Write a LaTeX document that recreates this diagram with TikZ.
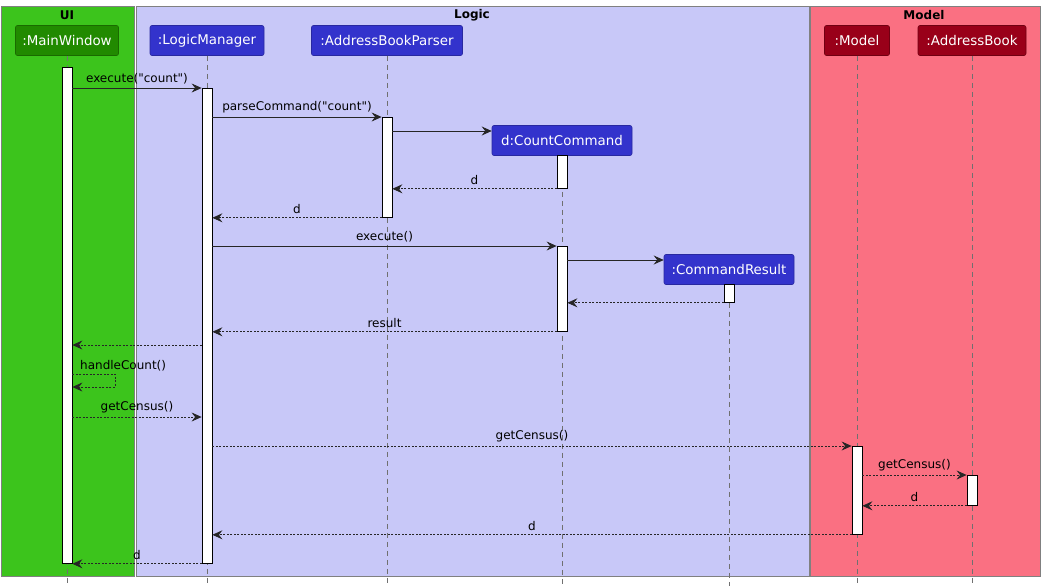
\documentclass[tikz,border=0pt]{standalone}
\usepackage{fontspec}
\setmainfont{DejaVu Sans}[Ligatures=TeXOff]
\usetikzlibrary{arrows.meta}
\definecolor{uifill}{HTML}{3CC41C}
\definecolor{logicfill}{HTML}{C8C8F8}
\definecolor{modelfill}{HTML}{FA7082}
\definecolor{uihead}{HTML}{218A00}
\definecolor{uiheadb}{HTML}{1A6A00}
\definecolor{logichead}{HTML}{3333CC}
\definecolor{logicheadb}{HTML}{2828A0}
\definecolor{modelhead}{HTML}{990019}
\definecolor{modelheadb}{HTML}{700012}
\definecolor{boxline}{HTML}{808080}
\definecolor{lifeline}{HTML}{707070}
\tikzset{
  grp/.style={draw=boxline, line width=0.8pt},
  grptitle/.style={font=\bfseries\fontsize{12}{14}\selectfont, inner sep=0pt},
  head/.style={rounded corners=2pt, text=white, minimum height=30pt, inner sep=0pt,
    font=\fontsize{13.4}{16}\selectfont, line width=0.6pt},
  uih/.style={head, fill=uihead, draw=uiheadb},
  lgh/.style={head, fill=logichead, draw=logicheadb},
  mdh/.style={head, fill=modelhead, draw=modelheadb},
  life/.style={draw=lifeline, line width=0.6pt, dash pattern=on 5pt off 4pt},
  act/.style={draw=black, fill=white, line width=0.8pt, minimum width=10pt, inner sep=0pt},
  msg/.style={draw=black!85, line width=0.8pt, -{Stealth[length=10pt,width=9pt,inset=3.5pt]}},
  rmsg/.style={msg, dash pattern=on 2pt off 1.5pt},
  lbl/.style={font=\fontsize{12}{14}\selectfont, inner sep=0pt, text=black},
}
\begin{document}
\begin{tikzpicture}[x=1pt,y=-1pt]
\useasboundingbox (0,0) rectangle (1045,587);
% groups
\node[grp, fill=uifill, minimum width=133pt, minimum height=570pt, anchor=north west, inner sep=0pt] (gUI) at (1,6) {};
\node[grp, fill=logicfill, minimum width=673pt, minimum height=570pt, anchor=north west, inner sep=0pt] (gLogic) at (136,6) {};
\node[grp, fill=modelfill, minimum width=230pt, minimum height=570pt, anchor=north west, inner sep=0pt] (gModel) at (810,6) {};
\node[grptitle] (tUI) at (67,15) {UI};
\node[grptitle] (tLogic) at (472,15) {Logic};
\node[grptitle] (tModel) at (924,15) {Model};
% heads
\node[uih, minimum width=103pt] (pMW) at (67,40.5) {:MainWindow};
\node[lgh, minimum width=114pt] (pLM) at (207,40.5) {:LogicManager};
\node[lgh, minimum width=151pt] (pABP) at (387,40.5) {:AddressBookParser};
\node[lgh, minimum width=140pt] (pCC) at (562,140.5) {d:CountCommand};
\node[lgh, minimum width=130pt] (pCR) at (729,269.5) {:CommandResult};
\node[mdh, minimum width=65pt] (pM) at (857,40.5) {:Model};
\node[mdh, minimum width=108pt] (pAB) at (972,40.5) {:AddressBook};
% lifelines
\coordinate (eMW) at (67,586);
\coordinate (eLM) at (207,586);
\coordinate (eABP) at (387,586);
\coordinate (eCC) at (562,586);
\coordinate (eCR) at (729,586);
\coordinate (eM) at (857,586);
\coordinate (eAB) at (972,586);
\draw[life] (pMW.south) -- (eMW);
\draw[life] (pLM.south) -- (eLM);
\draw[life] (pABP.south) -- (eABP);
\draw[life] (pCC.south) -- (eCC);
\draw[life] (pCR.south) -- (eCR);
\draw[life] (pM.south) -- (eM);
\draw[life] (pAB.south) -- (eAB);
% activations
\node[act, minimum height=496pt, anchor=north] (aMW) at (67,67) {};
\node[act, minimum height=475pt, anchor=north] (aLM) at (207,88) {};
\node[act, minimum height=100pt, anchor=north] (aABP) at (387,117) {};
\node[act, minimum height=33pt, anchor=north] (aCC1) at (562,155) {};
\node[act, minimum height=85pt, anchor=north] (aCC2) at (562,246) {};
\node[act, minimum height=18pt, anchor=north] (aCR) at (729,284) {};
\node[act, minimum height=88pt, anchor=north] (aM) at (857,446) {};
\node[act, minimum height=30pt, anchor=north] (aAB) at (972,475) {};
% messages
\draw[msg] (aMW.east |- 0,88) -- node[lbl, midway, above=4pt] (l1) {execute("count")} (aLM.west |- 0,88);
\draw[msg] (aLM.east |- 0,117) -- node[lbl, midway, above=4pt] (l2) {parseCommand("count")} (aABP.west |- 0,117);
\draw[msg] (aABP.east |- 0,131) -- (pCC.west |- 0,131);
\draw[rmsg] (aCC1.south west) -- node[lbl, midway, above=4pt] (l4) {d} (aABP.east |- aCC1.south);
\draw[rmsg] (aABP.south west) -- node[lbl, midway, above=4pt] (l5) {d} (aLM.east |- aABP.south);
\draw[msg] (aLM.east |- 0,246) -- node[lbl, midway, above=4pt] (l6) {execute()} (aCC2.north west);
\draw[msg] (aCC2.east |- 0,260) -- (pCR.west |- 0,260);
\draw[rmsg] (aCR.south west) -- (aCC2.east |- aCR.south);
\draw[rmsg] (aCC2.south west) -- node[lbl, midway, above=4pt] (l9) {result} (aLM.east |- aCC2.south);
\draw[rmsg] (aLM.west |- 0,345) -- (aMW.east |- 0,345);
\coordinate (s1) at (115,374);
\coordinate (s2) at (115,387);
\draw[rmsg] (aMW.east |- s1) -- (s1) -- (s2) -- (aMW.east |- s2);
\node[lbl, anchor=south west] (l11) at (80,371) {handleCount()};
\draw[rmsg] (aMW.east |- 0,417) -- node[lbl, midway, above=4pt] (l12) {getCensus()} (aLM.west |- 0,417);
\draw[rmsg] (aLM.east |- aM.north) -- node[lbl, midway, above=4pt] (l13) {getCensus()} (aM.north west);
\draw[rmsg] (aM.east |- aAB.north) -- node[lbl, midway, above=4pt] (l14) {getCensus()} (aAB.north west);
\draw[rmsg] (aAB.south west) -- node[lbl, midway, above=4pt] (l15) {d} (aM.east |- aAB.south);
\draw[rmsg] (aM.south west) -- node[lbl, midway, above=4pt] (l16) {d} (aLM.east |- aM.south);
\draw[rmsg] (aLM.south west) -- node[lbl, midway, above=4pt] (l17) {d} (aMW.east |- aLM.south);
\end{tikzpicture}
\end{document}
